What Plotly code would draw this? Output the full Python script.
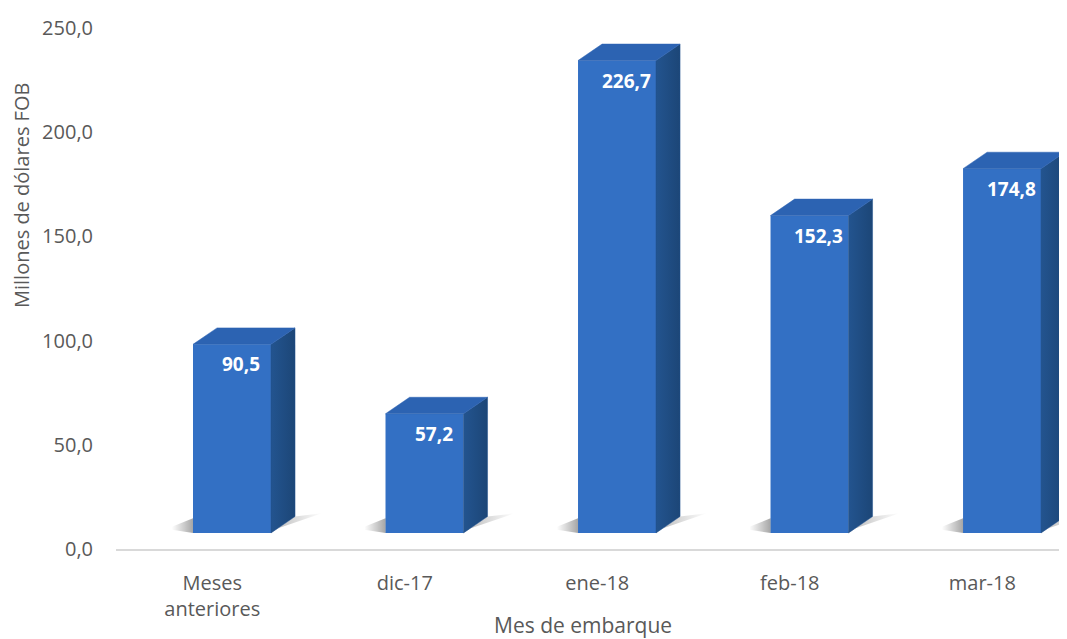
import plotly.graph_objects as go

# ---- data ----
CATEGORIES = ["Meses<br>anteriores", "dic-17", "ene-18", "feb-18", "mar-18"]
VALUES = [90.5, 57.2, 226.7, 152.3, 174.8]
Y_TICKS = [0, 50, 100, 150, 200, 250]
Y_TICK_LABELS = ["0,0", "50,0", "100,0", "150,0", "200,0", "250,0"]
X_TITLE = "Mes de embarque"
Y_TITLE = "Millones de dólares FOB"

# ---- style / 3D geometry (axis units) ----
FONT = "Open Sans"
TXT = "#595959"
FRONT = "#3370c4"
TOP = "#2c63b2"
SIDE = "#21508f"
W = 0.405      # front face width
OFF = -0.10    # front face offset from category centre
DX = 0.125     # depth, x
DY = 7.9       # depth, y
BASE = 7.7     # floor lift of the front face

# page body has an 8px margin: compensate
ML, MT, PW, PH = 108, 20, 951, 521

xs = list(range(len(VALUES)))
fig = go.Figure()

# floor shadows
for x, v in zip(xs, VALUES):
    xl = x + OFF
    fig.add_trace(go.Scatter(
        x=[xl - 0.11, xl, xl, xl - 0.11], y=[BASE + 1.5, BASE, BASE + 7, BASE + 3],
        fill="toself", mode="none", hoverinfo="skip", showlegend=False,
        fillgradient=dict(type="horizontal",
                          colorscale=[[0, "rgba(0,0,0,0)"], [1, "rgba(0,0,0,0.35)"]])))
    xr = x + OFF + W + DX
    fig.add_trace(go.Scatter(
        x=[xr - DX, xr, xr + 0.14, xr - DX],
        y=[BASE, BASE + DY, BASE + DY + 1.5, BASE + 1],
        fill="toself", mode="none", hoverinfo="skip", showlegend=False,
        fillgradient=dict(type="horizontal",
                          colorscale=[[0, "rgba(0,0,0,0.28)"], [1, "rgba(0,0,0,0)"]])))

# side faces
for x, v in zip(xs, VALUES):
    xr = x + OFF + W
    fig.add_trace(go.Scatter(
        x=[xr, xr + DX, xr + DX, xr, xr],
        y=[BASE, BASE + DY, BASE + v + DY, BASE + v, BASE],
        fill="toself", mode="lines", line=dict(width=0.5, color=SIDE),
        fillgradient=dict(type="horizontal",
                          colorscale=[[0, "#23548f"], [1, "#1c4677"]]),
        hoverinfo="skip", showlegend=False))

# top faces
for x, v in zip(xs, VALUES):
    xl = x + OFF
    xr = xl + W
    fig.add_trace(go.Scatter(
        x=[xl, xr, xr + DX, xl + DX, xl],
        y=[BASE + v, BASE + v, BASE + v + DY, BASE + v + DY, BASE + v],
        fill="toself", mode="lines", line=dict(width=0.5, color=TOP),
        fillcolor=TOP, hoverinfo="skip", showlegend=False))

# front faces
fig.add_trace(go.Bar(
    x=xs, y=VALUES, base=BASE, width=W, offset=OFF,
    marker=dict(color=FRONT, line=dict(width=0)),
    hoverinfo="skip", showlegend=False))

# data labels
for x, v in zip(xs, VALUES):
    fig.add_annotation(
        x=x + 0.15, y=v, yshift=-4, text=f"<b>{v:.1f}</b>".replace(".", ","),
        showarrow=False, font=dict(family=FONT, size=19, color="white"))

# axis titles (positions in page pixels, converted to paper units)
fig.add_annotation(xref="paper", yref="paper",
                   x=(583 - 8 - ML) / PW, y=(MT + PH - (625 - 8)) / PH,
                   text=X_TITLE, showarrow=False, xanchor="center", yanchor="middle",
                   font=dict(family=FONT, size=21, color=TXT))
fig.add_annotation(xref="paper", yref="paper",
                   x=(22 - 8 - ML) / PW, y=(MT + PH - (196 - 8)) / PH,
                   text=Y_TITLE, showarrow=False, textangle=-90,
                   xanchor="center", yanchor="middle",
                   font=dict(family=FONT, size=20, color=TXT))

fig.update_layout(
    width=ML + PW, height=639 - 8,
    margin=dict(l=ML, r=0, t=MT, b=639 - 8 - MT - PH),
    paper_bgcolor="white", plot_bgcolor="white",
    font=dict(family=FONT, size=20, color=TXT),
    barmode="overlay",
    xaxis=dict(range=[-0.5, 4.44], tickvals=xs, ticktext=CATEGORIES,
               showgrid=False, zeroline=False, showline=True,
               linecolor="#d9d9d9", linewidth=1.5, ticks="",
               ticklabelstandoff=15, tickfont=dict(family=FONT, size=20, color=TXT)),
    yaxis=dict(range=[0, 250], tickvals=Y_TICKS, ticktext=Y_TICK_LABELS,
               showgrid=False, zeroline=False, showline=False, ticks="",
               ticklabelstandoff=22, tickfont=dict(family=FONT, size=20, color=TXT)),
)

fig.write_html("out.html")
